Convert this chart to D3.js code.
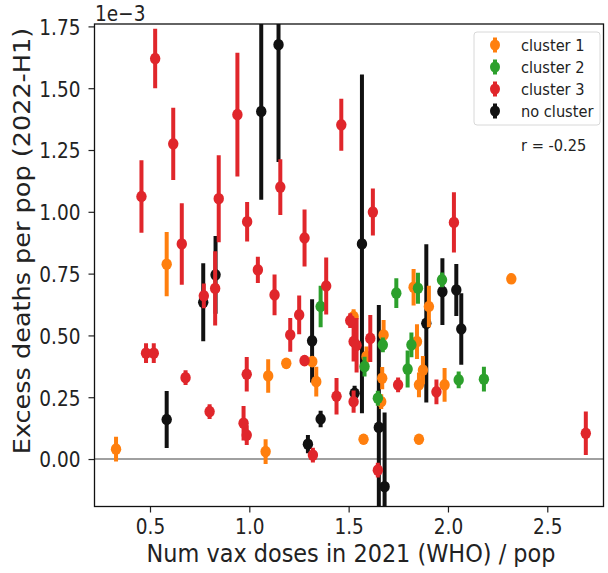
<!DOCTYPE html>
<html><head><meta charset="utf-8">
<script src="https://cdn.jsdelivr.net/npm/d3@7"></script>
<style>body{margin:0;background:#fff}svg{display:block}</style>
</head><body><svg id="c" width="608" height="573"></svg>
<script>
// ---- data (x = doses/pop, y = excess deaths per pop, in units of 1e-3, e = error half-width)
const c1x=[0.329,0.584,1.082,1.095,1.186,1.317,1.337,1.525,1.575,1.590,1.669,1.664,1.676,1.827,1.844,1.874,1.854,1.854,1.904,1.983,2.319];
const c1y=[0.040,0.788,0.030,0.336,0.387,0.394,0.313,0.576,0.080,0.415,0.327,0.232,0.502,0.695,0.475,0.360,0.300,0.080,0.617,0.300,0.729];
const c1e=[0.050,0.130,0.050,0.068,0.020,0.020,0.060,0.030,0.020,0.040,0.045,0.030,0.060,0.074,0.070,0.057,0.050,0.020,0.084,0.068,0.020];

const c2x=[1.359,1.580,1.647,1.672,1.740,1.797,1.816,1.849,1.970,2.054,2.181];
const c2y=[0.617,0.374,0.246,0.462,0.671,0.364,0.462,0.691,0.725,0.320,0.323];
const c2e=[0.084,0.040,0.030,0.030,0.060,0.075,0.050,0.063,0.030,0.034,0.050];

const c3x=[0.457,0.480,0.519,0.526,0.617,0.660,0.679,0.771,0.800,0.828,0.846,0.940,0.971,0.987,0.987,0.989,1.043,1.127,1.156,1.206,1.251,1.278,1.278,1.320,1.387,1.439,1.463,1.508,1.525,1.540,1.525,1.609,1.622,1.647,1.749,1.942,2.030,2.694];
const c3y=[1.062,0.428,0.428,1.620,1.275,0.870,0.329,0.660,0.192,0.690,1.053,1.393,0.145,0.097,0.343,0.960,0.765,0.664,1.100,0.502,0.583,0.894,0.398,0.016,0.700,0.254,1.352,0.560,0.475,0.460,0.232,0.488,0.999,-0.045,0.300,0.272,0.957,0.104];
const c3e=[0.147,0.040,0.040,0.120,0.146,0.165,0.030,0.050,0.030,0.150,0.176,0.250,0.070,0.040,0.070,0.080,0.053,0.082,0.113,0.068,0.078,0.115,0.020,0.030,0.115,0.074,0.105,0.030,0.080,0.110,0.045,0.095,0.095,0.030,0.030,0.050,0.122,0.088];

const c0x=[0.584,0.768,0.830,1.060,1.147,1.295,1.316,1.359,1.530,1.567,1.652,1.681,1.891,1.972,2.042,2.067];
const c0y=[0.160,0.634,0.745,1.406,1.676,0.060,0.478,0.162,0.266,0.870,0.128,-0.112,0.549,0.677,0.684,0.526];
const c0e=[0.115,0.158,0.157,0.357,0.475,0.037,0.168,0.033,0.030,0.685,0.495,0.300,0.320,0.135,0.105,0.145];

const seriesNames=["cluster 1","cluster 2","cluster 3","no cluster"];
const seriesColors=["#ff7f0e","#2ca02c","#e0262b","#111111"];
const xTicks=[0.5,1.0,1.5,2.0,2.5];
const yTicks=[0,0.25,0.5,0.75,1.0,1.25,1.5,1.75];
const xLabel="Num vax doses in 2021 (WHO) / pop";
const yLabel="Excess deaths per pop (2022-H1)";
const offsetText="1e\u22123";
const corrText="r = -0.25";

// ---- layout
const SY=1.14; // vertical stretch of the original picture
const L=94.5,R=603.5,T=24,B=506.5;
const FONT="DejaVu Sans, sans-serif";
const svg=d3.select("#c");
const x=d3.scaleLinear().domain([0.2206,2.783]).range([L,R]);
const y=d3.scaleLinear().domain([-0.192,1.7597]).range([B,T]);

const series=[
 {n:seriesNames[0],c:seriesColors[0],x:c1x,y:c1y,e:c1e},
 {n:seriesNames[1],c:seriesColors[1],x:c2x,y:c2y,e:c2e},
 {n:seriesNames[2],c:seriesColors[2],x:c3x,y:c3y,e:c3e},
 {n:seriesNames[3],c:seriesColors[3],x:c0x,y:c0y,e:c0e}
];

svg.append("defs").append("clipPath").attr("id","clip")
  .append("rect").attr("x",L).attr("y",T).attr("width",R-L).attr("height",B-T);

// zero line
svg.append("line").attr("x1",L).attr("x2",R).attr("y1",y(0)).attr("y2",y(0))
  .attr("stroke","#808080").attr("stroke-width",1.5);

const plot=svg.append("g").attr("clip-path","url(#clip)");
const order=[3,0,1,2];
order.forEach(i=>{
  const s=series[i];
  const pts=s.x.map((v,k)=>({x:v,y:s.y[k],e:s.e[k]}));
  const g=plot.append("g");
  g.selectAll("line").data(pts).join("line")
    .attr("x1",d=>x(d.x)).attr("x2",d=>x(d.x))
    .attr("y1",d=>y(d.y-d.e)).attr("y2",d=>y(d.y+d.e))
    .attr("stroke",s.c).attr("stroke-width",4);
  g.selectAll("ellipse").data(pts).join("ellipse")
    .attr("cx",d=>x(d.x)).attr("cy",d=>y(d.y))
    .attr("rx",5.2).attr("ry",5.8).attr("fill",s.c);
});

// axes
const fsT=18.5;
const xa=svg.append("g").attr("transform",`translate(0,${B})`)
  .call(d3.axisBottom(x).tickValues(xTicks).tickSize(6).tickFormat(d3.format(".1f")));
const ya=svg.append("g").attr("transform",`translate(${L},0)`)
  .call(d3.axisLeft(y).tickValues(yTicks).tickSize(6).tickFormat(d3.format(".2f")));
[xa,ya].forEach(a=>{a.select(".domain").remove();a.selectAll(".tick line").attr("stroke","#222").attr("stroke-width",1.2);});
xa.selectAll(".tick text").attr("y",null).attr("dy",null)
  .attr("transform",`translate(0,27) scale(1,${SY})`)
  .attr("font-size",fsT).attr("font-family",FONT).attr("fill","#222");
ya.selectAll(".tick text").attr("x",null).attr("dy",null)
  .attr("transform",`translate(-14,7.8) scale(1,${SY})`)
  .attr("font-size",fsT).attr("font-family",FONT).attr("fill","#222");

// frame
svg.append("rect").attr("x",L).attr("y",T).attr("width",R-L).attr("height",B-T)
  .attr("fill","none").attr("stroke","#111").attr("stroke-width",1.3);

function txt(s,xx,yy,fs,anchor,extra){
  return svg.append("text").text(s).attr("font-family",FONT).attr("font-size",fs)
    .attr("text-anchor",anchor||"start").attr("fill","#222")
    .attr("transform",`translate(${xx},${yy}) scale(1,${SY})`+(extra||""));
}
txt(xLabel,351,562,22.4,"middle");
txt(yLabel,30,241,22.4,"middle"," rotate(-90)");
txt(offsetText,95,21,18.5,"start");

// legend
const lg=svg.append("g");
lg.append("rect").attr("x",474).attr("y",32).attr("width",126).attr("height",93)
  .attr("rx",3).attr("fill","#fff").attr("fill-opacity",0.85).attr("stroke","#d8d8d8").attr("stroke-width",1);
seriesNames.forEach((n,i)=>{
  const yy=45+i*22;
  lg.append("line").attr("x1",495).attr("x2",495).attr("y1",yy-7.5).attr("y2",yy+7.5)
    .attr("stroke",seriesColors[i]).attr("stroke-width",4);
  lg.append("ellipse").attr("cx",495).attr("cy",yy).attr("rx",5).attr("ry",5.6).attr("fill",seriesColors[i]);
  txt(n,521,yy+5.6,14.6,"start");
});
txt(corrText,521,151,14.6,"start");
</script></body></html>
